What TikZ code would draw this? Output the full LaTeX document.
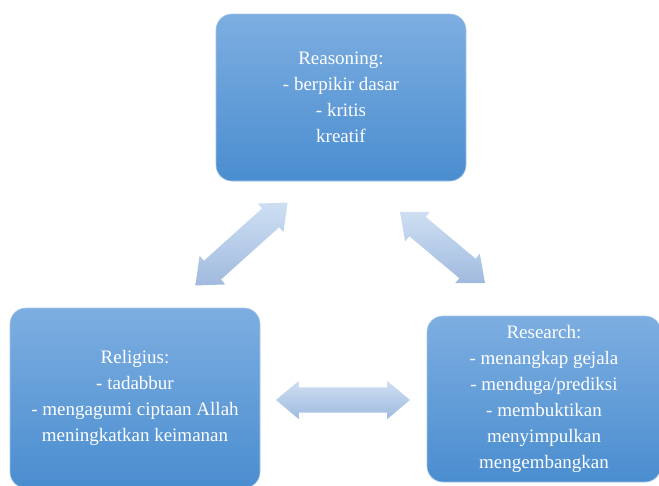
\documentclass[tikz,border=0pt]{standalone}
\usepackage{fontspec}
\setmainfont{Liberation Serif}
\usetikzlibrary{shapes.arrows}
\definecolor{boxtop}{RGB}{125,174,225}
\definecolor{boxbot}{RGB}{74,141,207}
\definecolor{arrtop}{RGB}{206,223,243}
\definecolor{arrbot}{RGB}{160,186,222}
\tikzset{
  infobox/.style={rectangle, rounded corners=16pt, top color=boxtop, bottom color=boxbot,
    draw=boxtop!70!white, line width=0.6pt, text=white, align=center, inner sep=0pt,
    font=\fontsize{19}{26}\selectfont},
  blockarrow/.style={shape=double arrow, top color=arrtop, bottom color=arrbot, draw=none,
    inner xsep=0pt, inner ysep=12.5pt, double arrow head extend=6.5pt,
    double arrow tip angle=80}
}
\begin{document}
\begin{tikzpicture}[x=1pt,y=-1pt]
\useasboundingbox (0,0) rectangle (659,485);
\node[infobox, minimum width=250pt, minimum height=167pt] (reason) at (341,97.5)
  {Reasoning:\\- berpikir dasar\\- kritis\\kreatif};
\node[infobox, minimum width=250pt, minimum height=180pt] (relig) at (135,398)
  {Religius:\\- tadabbur\\- mengagumi ciptaan Allah\\meningkatkan keimanan};
\node[infobox, minimum width=234pt, minimum height=166pt] (research) at (544,399)
  {Research:\\- menangkap gejala\\- menduga/prediksi\\- membuktikan\\menyimpulkan\\mengembangkan};
\node[blockarrow, minimum height=124pt, rotate=42] (a1) at (241.5,244) {};
\node[blockarrow, minimum height=111pt, rotate=-40] (a2) at (442.5,247.5) {};
\node[blockarrow, minimum height=134pt] (a3) at (343,400) {};
\end{tikzpicture}
\end{document}
